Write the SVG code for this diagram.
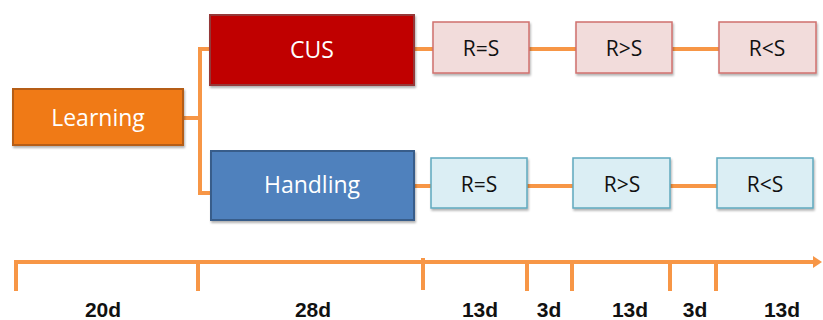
<svg xmlns="http://www.w3.org/2000/svg" width="823" height="320" viewBox="0 0 823 320">
<defs>
<filter id="sh" x="-10%" y="-10%" width="130%" height="140%"><feDropShadow dx="1" dy="2" stdDeviation="1.2" flood-color="#000" flood-opacity="0.3"/></filter>
</defs>
<style>
.lbl{font-family:"Open Sans","Liberation Sans",sans-serif;text-anchor:middle;dominant-baseline:central}
.w{fill:#fff;font-size:23px}
.k{fill:#111;font-size:21px}
.pink{fill:#F2DCDB;stroke:#D0706E;stroke-width:1.5}
.blue{fill:#DBEEF4;stroke:#5FA9BE;stroke-width:1.5}
.con{stroke:#F79646;stroke-width:4;fill:none}
.tl{stroke:#F79646;stroke-width:4;fill:none}
.d{font-family:"Liberation Sans",Arial,sans-serif;font-weight:bold;font-size:21px;fill:#111;text-anchor:middle}
</style>
<rect width="823" height="320" fill="#fff"/>
<g id="connectors">
<path class="con" d="M183 118 H200 M200 49 V193 M198 49 H210 M198 193 H211"/>
<path class="con" d="M414 49 H433 M529 49 H576 M672 49 H719"/>
<path class="con" d="M413 186 H431 M527 186 H573 M670 186 H717"/>
</g>
<g id="learning"><rect x="13" y="89" width="170" height="56" fill="#F07A17" stroke="#B55D16" stroke-width="2" filter="url(#sh)"/><text class="lbl w" x="98" y="117">Learning</text></g>
<g id="cus"><rect x="210" y="15" width="204" height="70" fill="#C00000" stroke="#953838" stroke-width="2" filter="url(#sh)"/><text class="lbl w" x="312" y="49">CUS</text></g>
<g id="handling"><rect x="211" y="151" width="203" height="69" fill="#4F81BD" stroke="#385D8A" stroke-width="2" filter="url(#sh)"/><text class="lbl w" x="312" y="184">Handling</text></g>
<g id="cus-eq"><rect class="pink" x="433" y="22" width="96" height="51" filter="url(#sh)"/><text class="lbl k" x="481" y="48">R=S</text></g>
<g id="cus-gt"><rect class="pink" x="576" y="22" width="96" height="51" filter="url(#sh)"/><text class="lbl k" x="624" y="48">R&gt;S</text></g>
<g id="cus-lt"><rect class="pink" x="719" y="22" width="97" height="51" filter="url(#sh)"/><text class="lbl k" x="767" y="48">R&lt;S</text></g>
<g id="h-eq"><rect class="blue" x="431" y="158" width="96" height="50" filter="url(#sh)"/><text class="lbl k" x="479" y="184">R=S</text></g>
<g id="h-gt"><rect class="blue" x="573" y="158" width="97" height="50" filter="url(#sh)"/><text class="lbl k" x="622" y="184">R&gt;S</text></g>
<g id="h-lt"><rect class="blue" x="717" y="158" width="96" height="50" filter="url(#sh)"/><text class="lbl k" x="765" y="184">R&lt;S</text></g>
<g id="timeline">
<path class="tl" d="M14 262 H816"/>
<path d="M813 256 L822 262 L813 268 Z" fill="#F79646"/>
<path class="tl" d="M16 261 V291 M198 262 V291 M423 258 V290 M527 262 V291 M572 262 V291 M670 262 V291 M716 262 V291"/>
<text class="d" x="103" y="317">20d</text>
<text class="d" x="313" y="317">28d</text>
<text class="d" x="480" y="317">13d</text>
<text class="d" x="549" y="317">3d</text>
<text class="d" x="630" y="317">13d</text>
<text class="d" x="695" y="317">3d</text>
<text class="d" x="782" y="317">13d</text>
</g>
</svg>
